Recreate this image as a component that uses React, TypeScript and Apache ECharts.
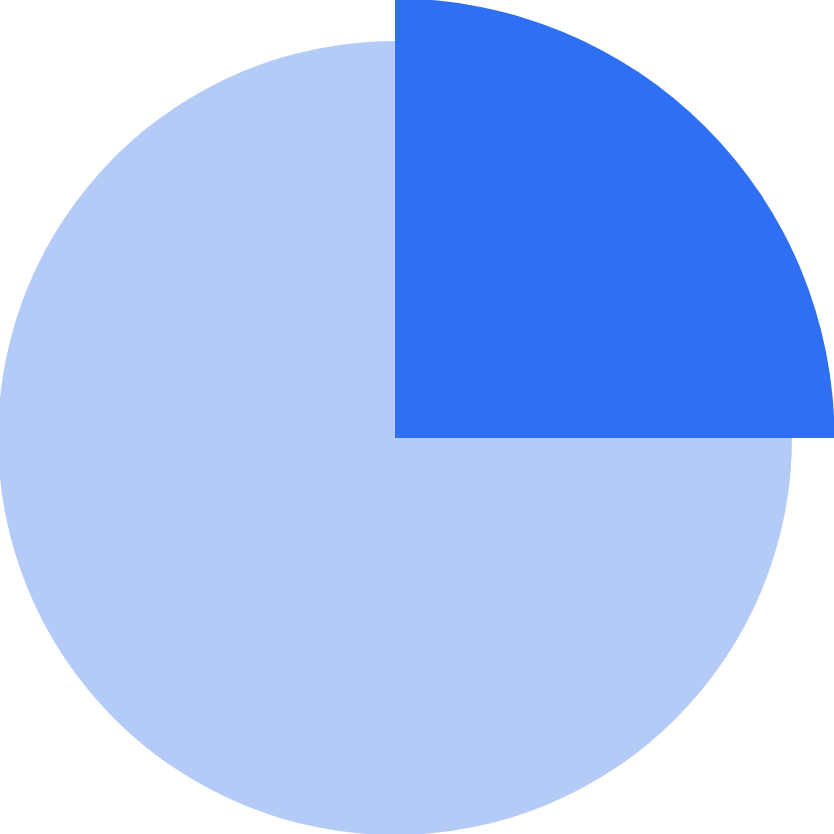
import React, { useEffect, useRef } from "react";
import * as echarts from "echarts";

const categories = ["Highlighted", "Rest"];
const values = [25, 75];
const colors = ["#2E6FF4", "#B4CBF8"];

export default function App() {
  const ref = useRef<HTMLDivElement>(null);
  useEffect(() => {
    if (!ref.current) return;
    const chart = echarts.init(ref.current, undefined, { renderer: "svg" });
    const make = (keep: number, radius: number) => ({
      type: "pie",
      center: [395, 438],
      radius: [0, radius],
      startAngle: 90,
      clockwise: true,
      label: { show: false },
      labelLine: { show: false },
      silent: true,
      data: categories.map((name, i) => ({
        name,
        value: values[i],
        itemStyle: { color: i === keep ? colors[i] : "rgba(0,0,0,0)", borderWidth: 0 },
      })),
    });
    chart.setOption({
      animation: false,
      series: [make(1, 397), make(0, 439.5)],
    });
    return () => chart.dispose();
  }, []);
  return (
    <div
      ref={ref}
      style={{ position: "fixed", left: 0, top: 0, width: 834, height: 834, background: "#fff" }}
    />
  );
}
